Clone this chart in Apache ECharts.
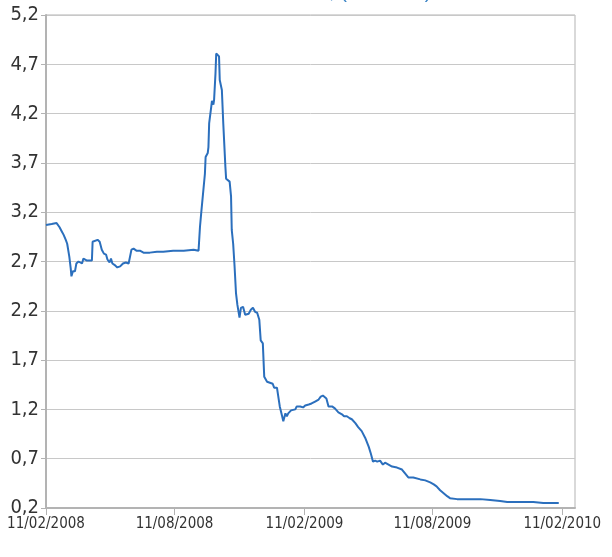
<!DOCTYPE html>
<html>
<head>
<meta charset="utf-8">
<script src="https://cdn.jsdelivr.net/npm/echarts@6/dist/echarts.min.js"></script>
<style>
  html, body { margin: 0; padding: 0; background: #fff; }
  #chart { width: 612px; height: 557px; }
</style>
</head>
<body>
<div id="chart"></div>
<script>
// jours depuis le 11/02/2008
var startDate = [2008, 1, 11];
var dayOffsets = [
  0, 8, 10, 15, 19, 22, 25, 28, 30, 33, 35, 36, 38, 41, 43, 46, 48, 51, 53, 55,
  58, 65, 66, 68, 73, 76, 79, 82, 85, 87, 90, 92, 94, 98, 101, 105, 109, 110, 113, 117,
  119, 121, 124, 128, 133, 138, 147, 157, 166, 180, 195, 209, 216, 218, 220, 221, 225, 226, 229, 230,
  231, 234, 235, 237, 238, 240, 241, 243, 245, 246, 249, 251, 254, 255, 257, 260, 262, 263, 265, 267,
  269, 271, 274, 276, 279, 282, 287, 290, 293, 296, 299, 302, 304, 307, 309, 313, 317, 321, 323, 327,
  329, 331, 334, 336, 339, 341, 343, 347, 349, 353, 355, 357, 360, 364, 367, 372, 376, 381, 386, 389,
  392, 397, 400, 405, 409, 414, 419, 422, 426, 430, 433, 438, 442, 447, 452, 457, 460, 463, 466, 469,
  473, 477, 480, 485, 490, 497, 504, 506, 513, 520, 530, 537, 544, 549, 553, 558, 563, 568, 572, 582,
  596, 615, 629, 643, 653, 671, 690, 704, 726
];
var prices = [
  3.07, 3.08, 3.09, 3.09, 3.05, 3.01, 2.97, 2.92, 2.88, 2.75, 2.63, 2.55, 2.60, 2.60, 2.68, 2.70, 2.70, 2.68, 2.73, 2.72,
  2.71, 2.71, 2.90, 2.92, 2.92, 2.90, 2.82, 2.78, 2.77, 2.72, 2.69, 2.73, 2.68, 2.66, 2.64, 2.65, 2.68, 2.67, 2.69, 2.68,
  2.70, 2.82, 2.83, 2.81, 2.81, 2.79, 2.79, 2.80, 2.80, 2.81, 2.81, 2.82, 2.81, 3.05, 3.21, 3.19, 3.59, 3.76, 3.80, 3.86,
  4.10, 4.27, 4.33, 4.29, 4.34, 4.61, 4.81, 4.82, 4.78, 4.54, 4.44, 4.10, 3.66, 3.54, 3.53, 3.51, 3.36, 3.02, 2.88, 2.65,
  2.38, 2.26, 2.13, 2.23, 2.24, 2.16, 2.17, 2.21, 2.23, 2.19, 2.18, 2.11, 1.90, 1.87, 1.53, 1.48, 1.47, 1.46, 1.42, 1.42,
  1.40, 1.23, 1.14, 1.08, 1.16, 1.13, 1.16, 1.19, 1.18, 1.20, 1.23, 1.22, 1.23, 1.22, 1.24, 1.25, 1.26, 1.28, 1.30, 1.33,
  1.34, 1.31, 1.23, 1.23, 1.21, 1.17, 1.15, 1.13, 1.13, 1.11, 1.10, 1.06, 1.02, 0.98, 0.91, 0.82, 0.75, 0.67, 0.68, 0.67,
  0.68, 0.64, 0.66, 0.64, 0.62, 0.61, 0.59, 0.59, 0.51, 0.51, 0.49, 0.48, 0.46, 0.44, 0.42, 0.38, 0.35, 0.32, 0.30, 0.29,
  0.29, 0.29, 0.28, 0.27, 0.26, 0.26, 0.26, 0.25, 0.25
];
var tickDates = ['2008-02-11', '2008-08-11', '2009-02-11', '2009-08-11', '2010-02-11'];
var titleText = "Cours de l'action, (en euros)";

var DAY = 24 * 3600 * 1000;
var t0 = Date.UTC(startDate[0], startDate[1], startDate[2]);
function toDay(s) {
  var p = s.split('-');
  return Math.round((Date.UTC(+p[0], +p[1] - 1, +p[2]) - t0) / DAY);
}
var tickDays = tickDates.map(toDay);
var seriesData = dayOffsets.map(function (d, i) { return [d, prices[i]]; });

var labelFont = "'Liberation Sans Narrow', 'DejaVu Sans Condensed', sans-serif";

var chart = echarts.init(document.getElementById('chart'));
chart.setOption({
  animation: false,
  title: {
    text: titleText,
    left: 'center',
    top: -23,
    textStyle: { color: '#3d85c6', fontSize: 20, fontWeight: 'normal', fontFamily: 'Liberation Sans' }
  },
  grid: {
    left: 46, right: 37, top: 15, bottom: 49,
    show: true, borderColor: '#b3b3b3', borderWidth: 1, backgroundColor: '#fff'
  },
  xAxis: {
    type: 'value',
    min: 0,
    max: toDay('2010-03-01'),
    axisLine: { show: true, lineStyle: { color: '#b3b3b3', width: 2 } },
    axisTick: { show: true, length: 7, customValues: tickDays, lineStyle: { color: '#b3b3b3' } },
    splitLine: { show: false },
    axisLabel: {
      customValues: tickDays,
      margin: 9,
      color: '#333',
      fontSize: 15,
      fontFamily: labelFont,
      formatter: function (v) {
        var d = new Date(t0 + v * DAY);
        var dd = ('0' + d.getUTCDate()).slice(-2);
        var mm = ('0' + (d.getUTCMonth() + 1)).slice(-2);
        return dd + '/' + mm + '/' + d.getUTCFullYear();
      }
    }
  },
  yAxis: {
    type: 'value',
    min: 0.2,
    max: 5.2,
    interval: 0.5,
    axisLine: { show: true, lineStyle: { color: '#b3b3b3', width: 2 } },
    axisTick: { show: true, length: 5, lineStyle: { color: '#b3b3b3' } },
    splitLine: { show: true, lineStyle: { color: '#c8c8c8', width: 1 } },
    axisLabel: {
      margin: 7,
      color: '#333',
      fontSize: 20,
      fontFamily: labelFont,
      formatter: function (v) { return v.toFixed(1).replace('.', ','); }
    }
  },
  series: [{
    type: 'line',
    data: seriesData,
    showSymbol: false,
    lineStyle: { color: '#2b6fbd', width: 2 },
    itemStyle: { color: '#2b6fbd' }
  }]
});
</script>
</body>
</html>
